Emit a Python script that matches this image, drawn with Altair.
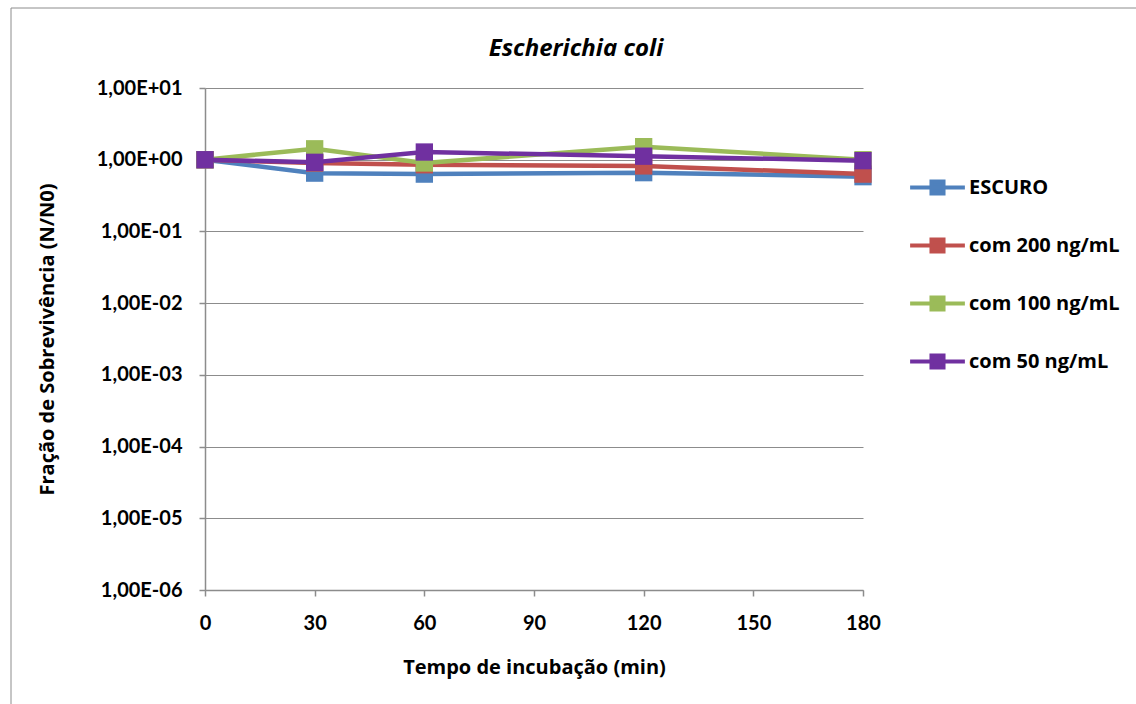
import altair as alt
import pandas as pd

tempo = [0, 30, 60, 120, 180]
series_names = ["ESCURO", "com 200 ng/mL", "com 100 ng/mL", "com 50 ng/mL"]
escuro = [1.0, 0.65, 0.63, 0.66, 0.58]
com200 = [1.0, 0.90, 0.85, 0.82, 0.63]
com100 = [1.0, 1.42, 0.90, 1.52, 1.0]
com50 = [1.0, 0.92, 1.28, 1.12, 0.97]
colors = ["#4F81BD", "#C0504D", "#9BBB59", "#7030A0"]
y_ticks = [1e-6, 1e-5, 1e-4, 1e-3, 1e-2, 1e-1, 1e0, 1e1]
x_ticks = [0, 30, 60, 90, 120, 150, 180]
chart_title = ["Escherichia coli"]

rows = []
for name, vals in zip(series_names, [escuro, com200, com100, com50]):
    for t, v in zip(tempo, vals):
        rows.append({"tempo": t, "frac": v, "serie": name})
df = pd.DataFrame(rows)

FONT = "Lato"
FONT2 = "Open Sans"
FS = 20

color_scale = alt.Scale(domain=series_names, range=colors)
x_enc = alt.X("tempo:Q", scale=alt.Scale(domain=[0, 180], nice=False),
              axis=alt.Axis(values=x_ticks, title="Tempo de incubação (min)", grid=False,
                            tickSize=6, labelPadding=17, titlePadding=24, labelFlush=False))
y_enc = alt.Y("frac:Q", scale=alt.Scale(type="log", domain=[1e-6, 10], nice=False),
              axis=alt.Axis(values=y_ticks, title="Fração de Sobrevivência (N/N0)",
                            grid=True, tickSize=6, labelPadding=17, titlePadding=39,
                            labelFlush=False,
                            labelExpr="'1,00E' + (round(log(datum.value)/LN10) >= 0 ? '+' : '-') + (abs(round(log(datum.value)/LN10)) < 10 ? '0' : '') + abs(round(log(datum.value)/LN10))"))

legend = alt.Legend(title=None, orient="none", legendX=703, legendY=70,
                    symbolType="M-1,0H1M-0.22,-0.22H0.22V0.22H-0.22Z",
                    symbolSize=3000, symbolStrokeWidth=4, rowPadding=14,
                    labelFontSize=FS, labelFont=FONT2, labelFontWeight="bold",
                    labelColor="#000000", labelOffset=2)

frame = alt.Chart(pd.DataFrame({"a": [0]})).mark_rect(
    fill=None, stroke="#8C8C8C", strokeWidth=1
).encode(x=alt.value(-194), x2=alt.value(1100), y=alt.value(-80), y2=alt.value(800))

title_layer = alt.Chart(pd.DataFrame({"t": chart_title})).mark_text(
    font=FONT2, fontSize=24, fontStyle="italic", fontWeight="bold", color="#000000",
    align="center", baseline="alphabetic"
).encode(text="t:N", x=alt.value(371), y=alt.value(-32))

layers = [frame, title_layer]
for i, name in enumerate(series_names):
    base = alt.Chart(df).transform_filter(alt.datum.serie == name)
    line = base.mark_line(strokeWidth=4.5).encode(
        x=x_enc, y=y_enc,
        color=alt.Color("serie:N", scale=color_scale, legend=legend, sort=series_names))
    pts = base.mark_point(shape="square", filled=True, size=300, opacity=1).encode(
        x=x_enc, y=y_enc,
        color=alt.Color("serie:N", scale=color_scale, legend=legend, sort=series_names))
    layers += [line, pts]

chart = alt.layer(*layers).properties(
    width=658, height=502,
    background="white",
    autosize=alt.AutoSizeParams(type="none"),
    padding={"left": 205, "top": 88, "right": 273, "bottom": 114},
).configure_axis(
    labelFont=FONT, labelFontSize=FS, labelFontWeight="bold", labelColor="#000000",
    titleFont=FONT2, titleFontSize=FS, titleFontWeight="bold", titleColor="#000000",
    domainColor="#8C8C8C", tickColor="#8C8C8C", gridColor="#8C8C8C",
    domainWidth=1.5, gridWidth=1, tickWidth=1.5,
).configure_view(stroke=None)

chart.save("out.html", embed_options={"renderer": "svg", "actions": False})
